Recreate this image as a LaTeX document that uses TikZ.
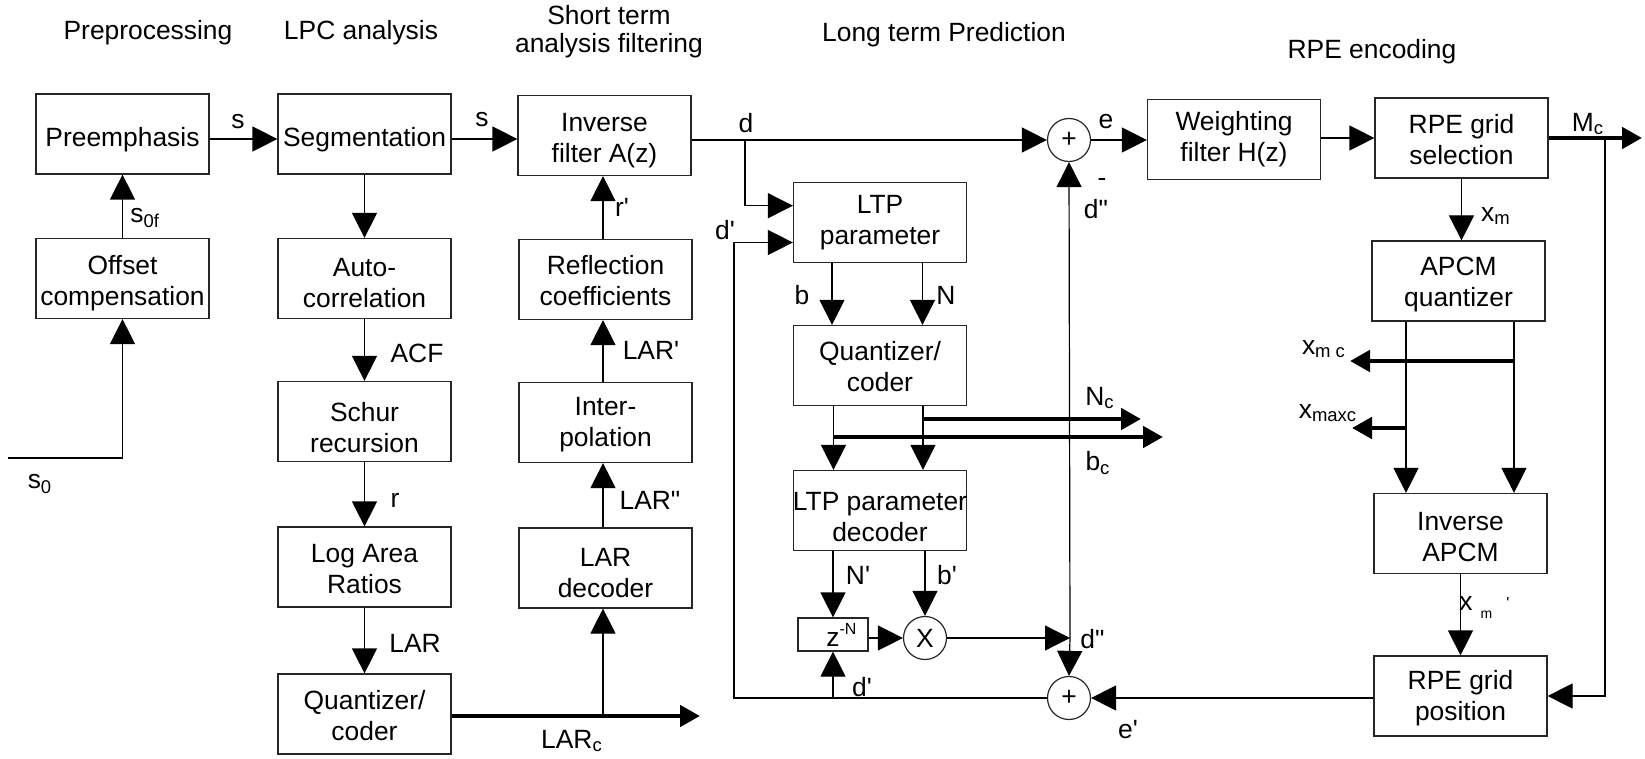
\documentclass[tikz,border=0pt]{standalone}
\usepackage{fontspec}
\setmainfont{Liberation Sans}[Ligatures=TeXOff]
\usetikzlibrary{arrows.meta}
\newcommand{\blkbox}[4]{%
  \node[blk] (#1) at (#2) {};
  \node[blktxt] (#1t) at ([yshift=-#3]#1.center) {#4};}
\begin{document}
\begin{tikzpicture}[x=0.5pt,y=-0.5pt,
  font=\fontsize{13.2}{15.5}\selectfont,
  every node/.style={inner sep=0pt},
  blk/.style={draw=black!85, line width=0.6pt, minimum width=86.5pt, minimum height=40pt},
  blktxt/.style={align=center},
  sumc/.style={draw=black!85, circle, line width=0.6pt, minimum size=21.5pt},
  zbox/.style={draw=black!85, line width=0.6pt, minimum width=35pt, minimum height=16.5pt},
  arr/.style={line width=0.6pt, -{Triangle[length=12.5pt,width=12.5pt]}},
  thk/.style={line width=2.4pt, -{Triangle[length=10pt,width=10.5pt]}},
]
\useasboundingbox (0,0) rectangle (1645,759);

% headers
\node (h1) at (148,33) {Preprocessing};
\node (h2) at (361,33) {LPC analysis};
\node[align=center, font=\fontsize{13.2}{14}\selectfont] (h3) at (609,32) {Short term\\analysis filtering};
\node (h4) at (944,35) {Long term Prediction};
\node (h5) at (1372,52) {RPE encoding};

% blocks
\blkbox{pre}{122.5,134}{3pt}{Preemphasis}
\blkbox{off}{122.5,278.5}{2.5pt}{Offset\\compensation}
\blkbox{seg}{364.5,134}{3pt}{Segmentation}
\blkbox{auto}{364.5,278.5}{2.3pt}{Auto-\\correlation}
\blkbox{schur}{364.5,421.5}{3pt}{Schur\\recursion}
\blkbox{lar}{364.5,567}{1.1pt}{Log Area\\Ratios}
\blkbox{qc1}{364.5,714}{0.6pt}{Quantizer/\\coder}
\blkbox{inv}{604.5,135.5}{2.6pt}{Inverse\\filter A(z)}
\blkbox{refl}{605.5,279.5}{0.3pt}{Reflection\\coefficients}
\blkbox{interp}{605.5,422.5}{1.3pt}{Inter-\\polation}
\blkbox{lardec}{605.5,568}{2.6pt}{LAR\\decoder}
\blkbox{ltpp}{880,222.5}{0.2pt}{LTP\\parameter}
\blkbox{qc2}{880,365.5}{0.7pt}{Quantizer/\\coder}
\blkbox{ltpd}{880,510.5}{3.2pt}{LTP parameter\\decoder}
\blkbox{wf}{1234,139.5}{0pt}{Weighting\\filter H(z)}
\blkbox{rsel}{1461.5,138}{0.6pt}{RPE grid\\selection}
\blkbox{apcm}{1458.5,281}{1.6pt}{APCM\\quantizer}
\blkbox{iapcm}{1460.5,533.5}{1.7pt}{Inverse\\APCM}
\blkbox{rpos}{1460.5,696}{1.2pt}{RPE grid\\position}
\node[zbox] (zb) at (833,634.5) {z\rlap{\fontsize{8}{8}\selectfont\raisebox{6pt}{-N}}};
\node[sumc] (xc) at (925,638) {X};
\node[sumc] (p1) at (1069,140) {+};
\node[sumc] (p2) at (1069,698) {+};

% helper coordinates
\coordinate (ya) at (0,139);
\coordinate (s0) at (8,458);
\coordinate (dj) at (745,140);
\coordinate (yd) at (0,205.7);
\coordinate (dl) at (734,698);
\coordinate (yd2) at (0,242.5);
\coordinate (mcend) at (1642,138);
\coordinate (mcj) at (1605,138);
\coordinate (jx) at (1070,638);
\coordinate (larend) at (700,716);
\coordinate (larj) at (603,716);
\coordinate (ncs) at (923,419);
\coordinate (nce) at (1141,419);
\coordinate (bcs) at (833.5,437);
\coordinate (bce) at (1163,437);
\coordinate (xmcs) at (1514,361);
\coordinate (xmce) at (1350,361);
\coordinate (xmxs) at (1406,428);
\coordinate (xmxe) at (1352,428);
\coordinate (ca) at (832,0);
\coordinate (cb) at (922.5,0);
\coordinate (cc) at (833.5,0);
\coordinate (cd) at (923,0);
\coordinate (ax1) at (1406,0);
\coordinate (ax2) at (1514,0);
\coordinate (c3) at (603,0);

% connectors
\draw[arr] (pre.east |- ya) -- (seg.west |- ya);
\draw[arr] (seg.east |- ya) -- (inv.west |- ya);
\draw[arr] (inv.east |- p1) -- (p1.west);
\draw[arr] (dj) |- (ltpp.west |- yd);
\draw[arr] (p1.east) -- (wf.west |- p1);
\draw[arr] (wf.east |- rsel) -- (rsel.west);
\draw[thk] (rsel.east) -- (mcend);
\draw[arr] (mcj) |- (rpos.east);
\draw[arr] (rsel.south) -- (rsel.south |- apcm.north);
\draw[thk] (xmcs) -- (xmce);
\draw[thk] (xmxs) -- (xmxe);
\draw[arr] (apcm.south -| ax1) -- (iapcm.north -| ax1);
\draw[arr] (apcm.south -| ax2) -- (iapcm.north -| ax2);
\draw[arr] (iapcm.south) -- (rpos.north);
\draw[arr] (rpos.west |- p2) -- (p2.east);
\draw[arr] (p2.west) -- (dl) -- (dl |- yd2) -- (ltpp.west |- yd2);
\draw[arr] (zb.south |- p2) -- (zb.south);
\draw[arr] (ltpd.south -| zb) -- (zb.north);
\draw[arr] (ltpd.south -| xc) -- (xc.north);
\draw[arr] (zb.east |- xc) -- (xc.west);
\draw[arr] (xc.east) -- (jx);
\draw[arr] (jx) -- (p1.south);
\draw[arr] (jx) -- (p2.north);
\draw[arr] (s0) -| (off.south);
\draw[arr] (off.north) -- (pre.south);
\draw[arr] (seg.south) -- (auto.north);
\draw[arr] (auto.south) -- (schur.north);
\draw[arr] (schur.south) -- (lar.north);
\draw[arr] (lar.south) -- (qc1.north);
\draw[thk] (qc1.east |- larend) -- (larend);
\draw[arr] (larj) -- (lardec.south -| larj);
\draw[arr] (lardec.north -| c3) -- (interp.south -| c3);
\draw[arr] (interp.north -| c3) -- (refl.south -| c3);
\draw[arr] (refl.north -| c3) -- (inv.south -| c3);
\draw[arr] (ltpp.south -| ca) -- (qc2.north -| ca);
\draw[arr] (ltpp.south -| cb) -- (qc2.north -| cb);
\draw[arr] (qc2.south -| cc) -- (ltpd.north -| cc);
\draw[arr] (qc2.south -| cd) -- (ltpd.north -| cd);
\draw[thk] (ncs) -- (nce);
\draw[thk] (bcs) -- (bce);

% labels
\node (ls1) at (238,122) {s};
\node (ls2) at (482,120) {s};
\node[anchor=west] (ls0f) at (130,218) {s\textsubscript{0f}};
\node (ls0) at (40,484) {s\textsubscript{0}};
\node (lacf) at (417,353) {ACF};
\node (lr) at (395,500) {r};
\node (llar) at (415,643) {LAR};
\node (llarc) at (572,741) {LAR\textsubscript{c}};
\node (lrp) at (622,207) {r'};
\node (llarp) at (651,350) {LAR'};
\node (llarpp) at (650,500) {LAR"};
\node (ld) at (746,123) {d};
\node (ldp1) at (725,230) {d'};
\node (lb) at (802,295) {b};
\node (lN) at (946,295) {N};
\node (lNc) at (1100,398) {N\textsubscript{c}};
\node (lbc) at (1098,463) {b\textsubscript{c}};
\node (lNp) at (858,575) {N'};
\node (lbp) at (947,575) {b'};
\node[anchor=west] (ldpp2) at (1080,639) {d"};
\node (ldp2) at (862,687) {d'};
\node (lep) at (1128,730) {e'};
\node (lminus) at (1102,182) {-};
\node (ldpp1) at (1096,209) {d"};
\node (le) at (1106,122) {e};
\node (lmc) at (1588,124) {M\textsubscript{c}};
\node (lxm) at (1496,216) {x\textsubscript{m}};
\node (lxmc) at (1324,349) {x\textsubscript{m c}};
\node (lxmaxc) at (1328,413) {x\textsubscript{maxc}};
\node[anchor=west] (lxmp) at (1459,608) {x\kern4pt\raisebox{-4pt}{\scriptsize m}\kern7pt\raisebox{1pt}{\footnotesize '}};
\end{tikzpicture}
\end{document}
